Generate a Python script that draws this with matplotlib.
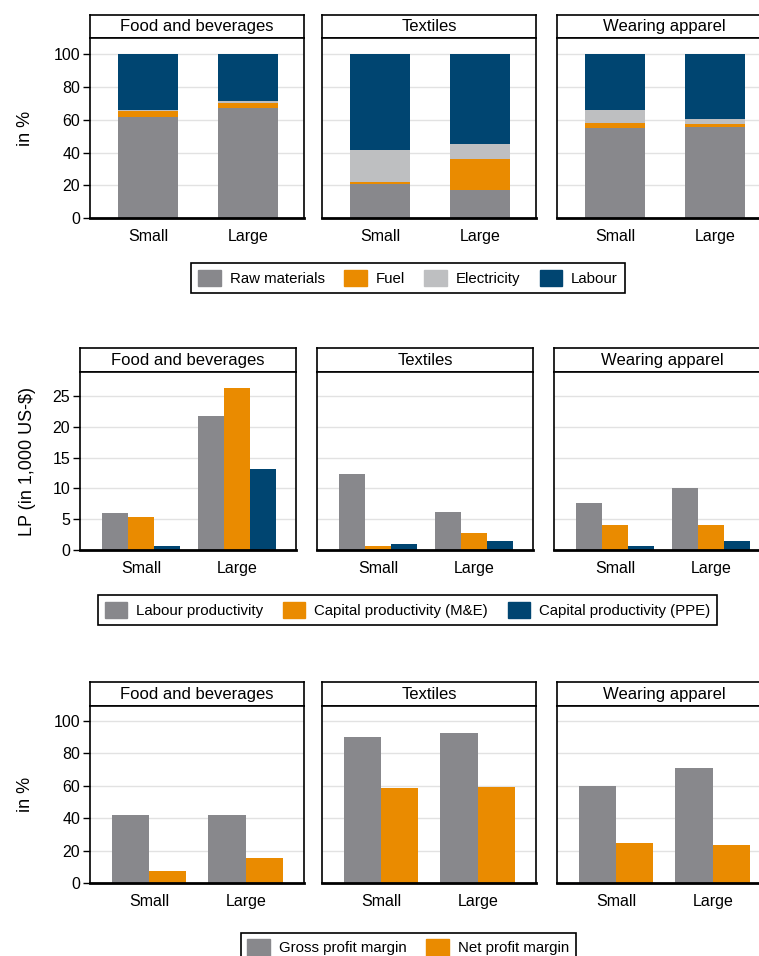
import numpy as np
import matplotlib
matplotlib.use("Agg")
import matplotlib.pyplot as plt
from matplotlib.patches import Patch

plt.rcParams['font.family'] = ['Liberation Sans', 'DejaVu Sans']

# data
sectors = ["Food and beverages", "Textiles", "Wearing apparel"]
sizes = ["Small", "Large"]

# cost shares (in %), order: Small, Large
raw_materials = [[62, 67.5], [21, 17.3], [54.9, 55.5]]
fuel = [[3.5, 3.0], [1.3, 18.9], [3.0, 2.0]]
electricity = [[0.5, 0.7], [19.3, 8.8], [8.1, 3.0]]
labour = [[34.0, 28.8], [58.4, 55.0], [34.0, 39.5]]

# productivity (1,000 US-$)
labour_prod = [[6.0, 21.8], [12.4, 6.2], [7.6, 10.0]]
cap_prod_me = [[5.3, 26.3], [0.7, 2.7], [4.1, 4.1]]
cap_prod_ppe = [[0.7, 13.2], [1.0, 1.45], [0.7, 1.45]]

# profit margins (in %)
gross_margin = [[41.6, 41.6], [89.8, 92.6], [60.0, 70.7]]
net_margin = [[7.6, 15.6], [58.4, 59.4], [24.6, 23.1]]

GREY = "#88888c"
ORANGE = "#ea8b00"
LIGHT = "#bebfc1"
NAVY = "#004571"

W, H = 759, 956
fig = plt.figure(figsize=(W / 100, H / 100), dpi=100)


def px_axes(x0, y0, x1, y1):
    return fig.add_axes([x0 / W, 1 - y1 / H, (x1 - x0) / W, (y1 - y0) / H])


def make_panel(x0, strip_top, strip_bot, bottom, width, title, first, ylim, yticks, xlim):
    strip = px_axes(x0, strip_top, x0 + width, strip_bot)
    strip.set_xticks([])
    strip.set_yticks([])
    for s in strip.spines.values():
        s.set_linewidth(1.2)
    strip.text(0.5, 0.48, title, ha="center", va="center", fontsize=12,
               transform=strip.transAxes)
    ax = px_axes(x0, strip_bot, x0 + width, bottom)
    ax.set_ylim(*ylim)
    ax.set_xlim(*xlim)
    ax.set_yticks(yticks)
    ax.grid(axis="y", color="#e2e2e2", lw=1)
    ax.set_axisbelow(True)
    for s in ["left", "right", "top"]:
        ax.spines[s].set_linewidth(1.2)
    ax.spines["bottom"].set_linewidth(2.0)
    ax.set_xticks([0, 1])
    ax.set_xticklabels(sizes, fontsize=11.5)
    ax.tick_params(axis="x", length=0, pad=8)
    if first:
        ax.tick_params(axis="y", labelsize=11.5, length=5, width=1, pad=2)
    else:
        ax.tick_params(axis="y", left=False, labelleft=False)
    return ax


def add_legend(handles, anchor, loc="center"):
    leg = fig.legend(handles=handles, loc=loc, bbox_to_anchor=anchor,
                     ncol=len(handles), fontsize=10.8, frameon=True,
                     fancybox=False, edgecolor="black", framealpha=1,
                     handlelength=1.5, handleheight=1.3, handletextpad=0.6,
                     columnspacing=1.3, borderpad=0.45)
    leg.get_frame().set_linewidth(1.2)


# ---- row 1: stacked cost shares ----
lefts = [90, 322, 557]
for i, sec in enumerate(sectors):
    ax = make_panel(lefts[i], 15, 38, 218, 214, sec, i == 0, (0, 110),
                    range(0, 101, 20), (-0.58, 1.56))
    x = np.arange(2)
    bottom = np.zeros(2)
    for vals, col in [(raw_materials, GREY), (fuel, ORANGE),
                      (electricity, LIGHT), (labour, NAVY)]:
        v = np.array(vals[i])
        ax.bar(x, v, 0.6, bottom=bottom, color=col)
        bottom += v
    if i == 0:
        ax.set_ylabel("in %", fontsize=13, labelpad=14)

add_legend([Patch(color=GREY, label="Raw materials"),
            Patch(color=ORANGE, label="Fuel"),
            Patch(color=LIGHT, label="Electricity"),
            Patch(color=NAVY, label="Labour")],
           (408 / W, 1 - 278 / H))

# ---- row 2: productivity ----
lefts2 = [80, 317, 554]
for i, sec in enumerate(sectors):
    ax = make_panel(lefts2[i], 348, 372, 550, 216, sec, i == 0, (0, 28.9),
                    range(0, 26, 5), (-0.635, 1.615))
    x = np.arange(2)
    w = 0.274
    ax.bar(x - w, labour_prod[i], w, color=GREY)
    ax.bar(x, cap_prod_me[i], w, color=ORANGE)
    ax.bar(x + w, cap_prod_ppe[i], w, color=NAVY)
    if i == 0:
        ax.set_ylabel("LP (in 1,000 US-$)", fontsize=13, labelpad=12)

add_legend([Patch(color=GREY, label="Labour productivity"),
            Patch(color=ORANGE, label="Capital productivity (M&E)"),
            Patch(color=NAVY, label="Capital productivity (PPE)")],
           (407.5 / W, 1 - 610 / H))

# ---- row 3: profit margins ----
for i, sec in enumerate(sectors):
    ax = make_panel(lefts[i], 682, 706, 883, 214, sec, i == 0, (0, 109),
                    range(0, 101, 20), (-0.607, 1.6))
    x = np.arange(2)
    w = 0.385
    ax.bar(x - w / 2, gross_margin[i], w, color=GREY)
    ax.bar(x + w / 2, net_margin[i], w, color=ORANGE)
    if i == 0:
        ax.set_ylabel("in %", fontsize=13, labelpad=14)

add_legend([Patch(color=GREY, label="Gross profit margin"),
            Patch(color=ORANGE, label="Net profit margin")],
           (408 / W, 1 - 925 / H), loc="upper center")

fig.savefig("out.png", dpi=100)
